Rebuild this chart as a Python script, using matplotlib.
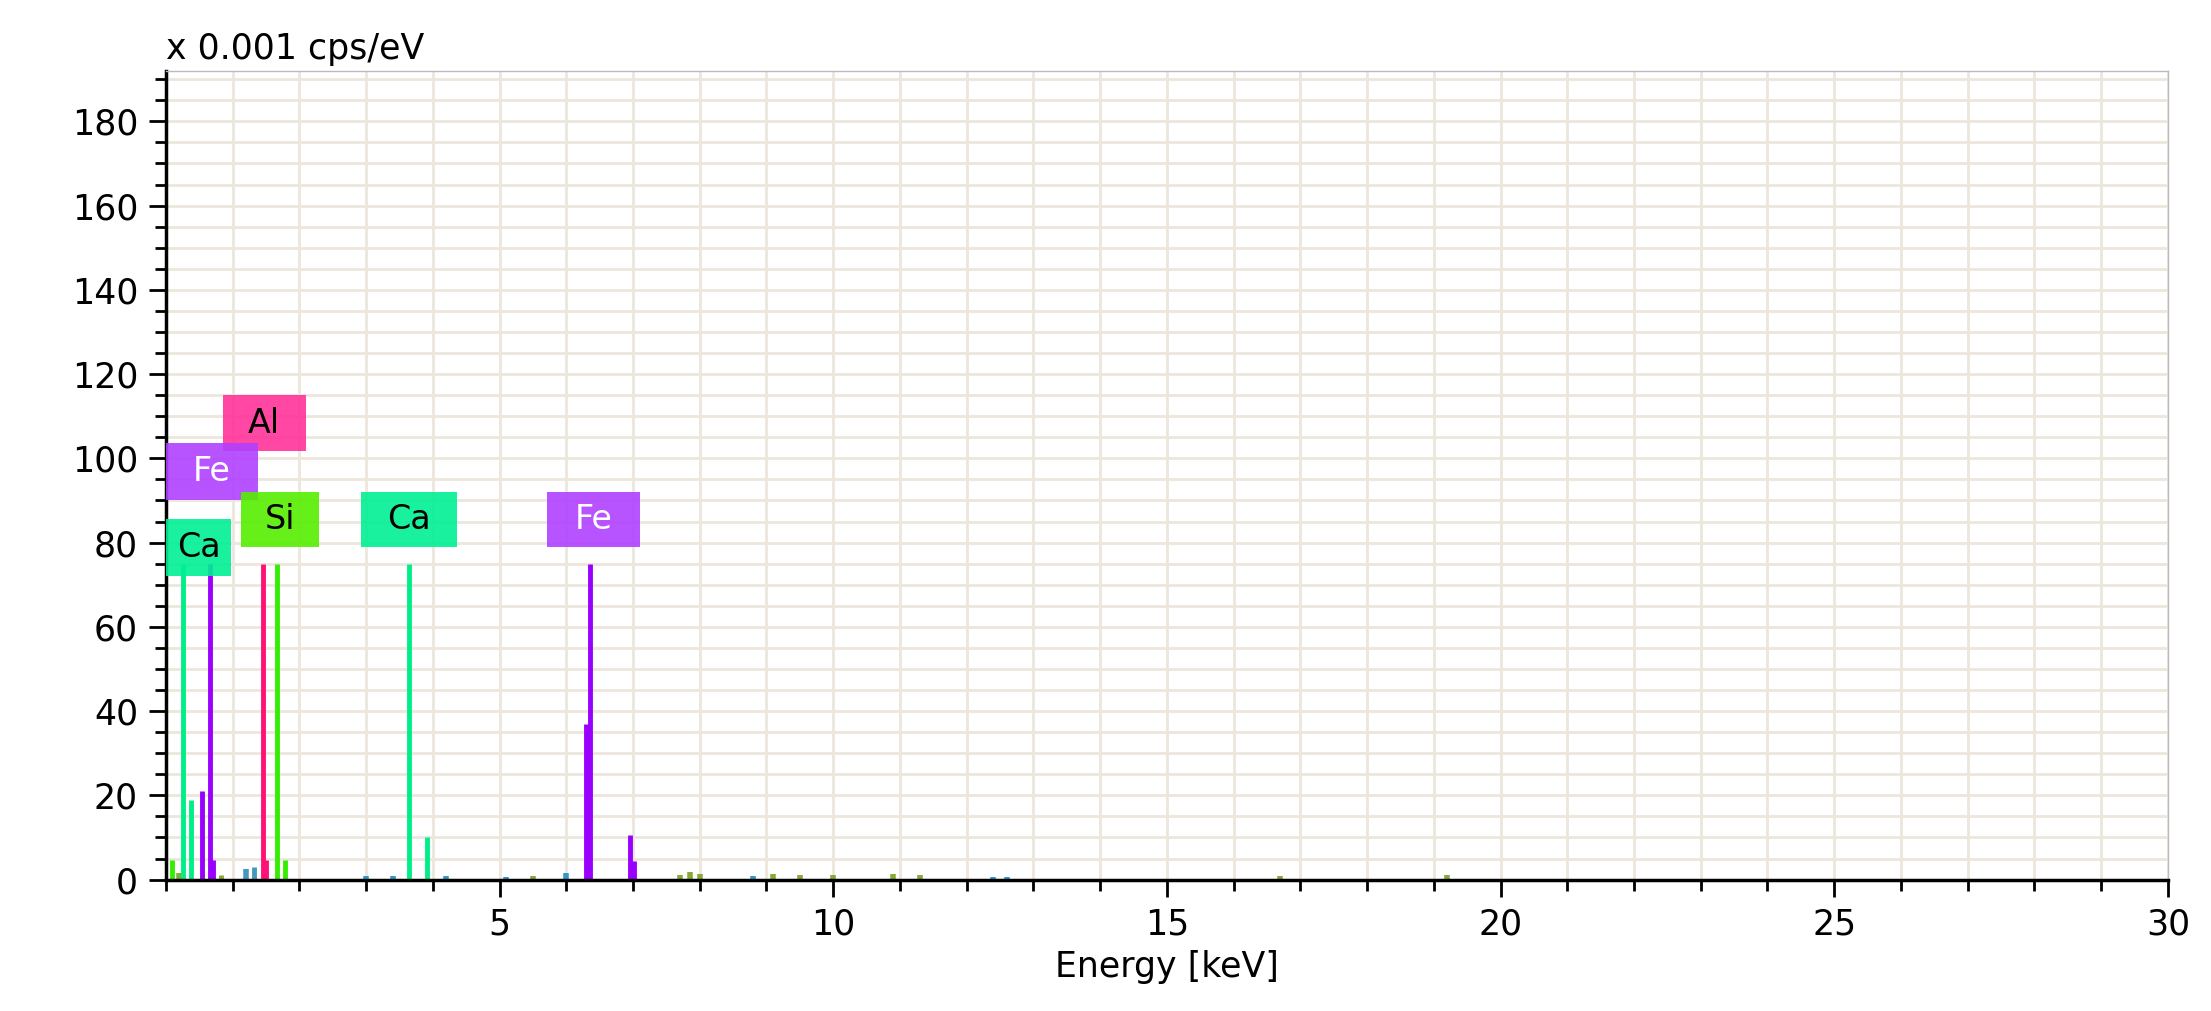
import matplotlib
matplotlib.use("Agg")
import matplotlib.pyplot as plt
from matplotlib.ticker import MultipleLocator

# peak lines: energy (keV), height (x0.001 cps/eV), colour
peak_kev = [0.10, 0.26, 0.37, 0.54, 0.66, 0.70, 0.83, 1.32, 1.45, 1.50, 1.67, 1.79,
            3.64, 3.92, 6.29, 6.35, 6.96, 7.01]
peak_cps = [4.6, 75, 19, 21, 75, 4.6, 1, 3, 75, 4.6, 75, 4.6,
            75, 10, 37, 75, 10.5, 4.5]
peak_col = ['#33ee00', '#00ee88', '#00ee88', '#9900ff', '#9900ff', '#9900ff', '#88aa33', '#4499bb',
            '#ff1177', '#ff1177', '#33ee00', '#33ee00',
            '#00ee88', '#00ee88', '#9900ff', '#9900ff', '#9900ff', '#9900ff']

# small background bumps
bump_kev = [0.2, 1.2, 3.0, 3.4, 4.2, 5.1, 5.5, 6.0, 7.7, 7.85, 8.0, 8.8, 9.1, 9.5, 10.0, 10.9, 11.3, 12.4, 12.6, 16.7, 19.2]
bump_cps = [1.5, 2.5, 0.8, 0.8, 0.8, 0.7, 0.8, 1.5, 1.2, 1.8, 1.3, 0.8, 1.3, 1.2, 1.0, 1.3, 1.2, 0.7, 0.7, 0.8, 1.2]
bump_col = ['#88aa33', '#4499bb', '#3399cc', '#3399cc', '#3399cc', '#3399cc', '#88aa33', '#3399cc', '#88aa33', '#88aa33', '#88aa33',
            '#3399cc', '#88aa33', '#88aa33', '#88aa33', '#88aa33', '#88aa33', '#3399cc', '#3399cc', '#88aa33', '#88aa33']

# element labels: text, x0, x1, y0, y1, box colour, text colour
lab_text = ['Al', 'Fe', 'Ca', 'Si', 'Ca', 'Fe']
lab_x0 = [0.85, 0.0, 0.0, 1.13, 2.93, 5.71]
lab_x1 = [2.10, 1.38, 0.98, 2.30, 4.37, 7.11]
lab_y0 = [101.7, 90, 72, 79, 79, 79]
lab_y1 = [115, 103.7, 85.6, 92, 92, 92]
lab_col = ['#ff3399', '#b040ff', '#00f094', '#55ee00', '#00f094', '#b040ff']
lab_tcol = ['black', 'white', 'black', 'black', 'black', 'white']

fig = plt.figure(figsize=(22.11, 10.11), dpi=100)
ax = fig.add_axes([0.075, 0.130, 0.9055, 0.80])

ax.vlines(bump_kev, 0, bump_cps, colors=bump_col, linewidth=4)
ax.vlines(peak_kev, 0, peak_cps, colors=peak_col, linewidth=3.5)

for t, x0, x1, y0, y1, c, tc in zip(lab_text, lab_x0, lab_x1, lab_y0, lab_y1, lab_col, lab_tcol):
    ax.add_patch(plt.Rectangle((x0, y0), x1 - x0, y1 - y0, color=c, alpha=0.9, zorder=3, lw=0))
    ax.text((x0 + x1) / 2, (y0 + y1) / 2, t, color=tc, fontsize=24, ha='center', va='center', zorder=4)

ax.set_xlim(0, 30)
ax.set_ylim(0, 192)
ax.xaxis.set_major_locator(MultipleLocator(5))
ax.xaxis.set_minor_locator(MultipleLocator(1))
ax.yaxis.set_major_locator(MultipleLocator(20))
ax.yaxis.set_minor_locator(MultipleLocator(5))
ax.set_xticks([5, 10, 15, 20, 25, 30])
ax.grid(which='both', axis='x', color='#ece6dc', linewidth=2)
ax.grid(which='both', axis='y', color='#ece6dc', linewidth=2)
ax.set_axisbelow(True)

ax.tick_params(which='major', direction='out', length=12, width=2, labelsize=25, pad=8)
ax.tick_params(which='minor', direction='out', length=8, width=2)
for s in ['left', 'bottom']:
    ax.spines[s].set_linewidth(2.5)
for s in ['top', 'right']:
    ax.spines[s].set_color('#bbbbbb')
    ax.spines[s].set_linewidth(1)

ax.set_xlabel('Energy [keV]', fontsize=25, labelpad=6)
fig.text(0.075, 0.952, 'x 0.001 cps/eV', fontsize=25, ha='left', va='center')

fig.savefig('out.png', dpi=100)
